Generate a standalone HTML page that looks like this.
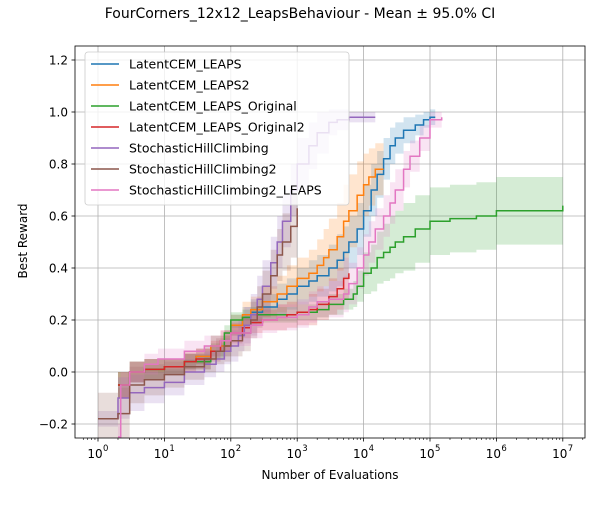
<!DOCTYPE html>
<html><head><meta charset="utf-8"><style>
body{margin:0;background:#fff;font-family:"Liberation Sans","DejaVu Sans",sans-serif}
svg text{font-family:"DejaVu Sans","Liberation Sans",sans-serif}
</style></head><body>
<svg id="c" width="600" height="500" xmlns="http://www.w3.org/2000/svg"></svg>
<script>
const seriesNames=["LatentCEM_LEAPS","LatentCEM_LEAPS2","LatentCEM_LEAPS_Original","LatentCEM_LEAPS_Original2","StochasticHillClimbing","StochasticHillClimbing2","StochasticHillClimbing2_LEAPS"];
const colors=["#1f77b4","#ff7f0e","#2ca02c","#d62728","#9467bd","#8c564b","#e377c2"];
const xBlue=[2,3,5,10,20,30,50,100,150,200,300,500,700,1000,1500,2000,3000,4000,5000,6000,8000,10000,13000,16000,20000,25000,30000,40000,60000,80000,100000,120000];
const yBlue=[-0.05,0,0.01,0.02,0.04,0.06,0.1,0.18,0.21,0.23,0.25,0.28,0.3,0.33,0.35,0.37,0.4,0.43,0.46,0.5,0.55,0.62,0.7,0.76,0.82,0.87,0.9,0.93,0.95,0.97,0.98,0.98];
const ciBlue=[0.05,0.04,0.04,0.03,0.03,0.03,0.04,0.04,0.04,0.05,0.05,0.06,0.06,0.07,0.08,0.08,0.09,0.1,0.1,0.1,0.1,0.1,0.1,0.09,0.08,0.07,0.06,0.05,0.04,0.03,0.03,0.03];
const xOrange=[2,3,5,10,20,30,50,100,150,200,300,500,700,1000,1500,2000,2500,3000,4000,5000,6000,8000,10000,12000,15000,20000];
const yOrange=[-0.05,0,0.01,0.02,0.04,0.06,0.1,0.18,0.22,0.24,0.27,0.3,0.33,0.36,0.38,0.41,0.44,0.47,0.52,0.58,0.62,0.68,0.72,0.75,0.78,0.78];
const ciOrange=[0.05,0.04,0.04,0.03,0.03,0.03,0.04,0.04,0.05,0.05,0.06,0.07,0.08,0.08,0.09,0.1,0.11,0.12,0.13,0.14,0.14,0.13,0.12,0.11,0.1,0.1];
const xGreen=[2,3,5,10,20,50,80,100,150,200,500,1000,2000,3000,5000,7000,8000,10000,13000,16000,20000,25000,30000,40000,60000,100000,200000,500000,1000000,3000000,10000000];
const yGreen=[-0.05,0,0.01,0.02,0.04,0.08,0.15,0.2,0.21,0.22,0.22,0.23,0.24,0.26,0.28,0.3,0.33,0.38,0.4,0.44,0.46,0.48,0.5,0.52,0.55,0.58,0.59,0.6,0.62,0.62,0.64];
const ciGreen=[0.05,0.04,0.04,0.03,0.03,0.03,0.03,0.03,0.03,0.03,0.03,0.03,0.03,0.04,0.04,0.05,0.06,0.08,0.09,0.1,0.11,0.12,0.12,0.13,0.13,0.13,0.13,0.13,0.13,0.13,0.13];
const xRed=[2,3,5,10,20,30,50,70,100,150,200,300,500,700,1000,1500,2000,3000,4000,5000,6000];
const yRed=[-0.05,0,0.01,0.02,0.04,0.05,0.08,0.12,0.15,0.17,0.19,0.2,0.21,0.22,0.23,0.24,0.26,0.29,0.32,0.36,0.38];
const ciRed=[0.05,0.04,0.04,0.03,0.04,0.04,0.04,0.04,0.04,0.04,0.04,0.04,0.05,0.05,0.05,0.06,0.06,0.07,0.08,0.08,0.08];
const xPurple=[1,2,3,5,10,20,40,60,80,100,130,160,200,250,300,400,500,600,800,1000,1500,2000,3000,4000,6000,15000];
const yPurple=[-0.18,-0.1,-0.08,-0.06,-0.04,0,0.03,0.05,0.08,0.1,0.14,0.18,0.22,0.28,0.33,0.42,0.5,0.58,0.7,0.8,0.87,0.92,0.96,0.97,0.98,0.98];
const ciPurple=[0.03,0.08,0.07,0.06,0.05,0.05,0.05,0.05,0.05,0.06,0.06,0.07,0.08,0.09,0.1,0.1,0.1,0.1,0.1,0.1,0.09,0.08,0.05,0.04,0.02,0.02];
const xBrown=[1,2,3,5,10,20,40,60,80,100,150,200,250,300,400,500,600,800,1000];
const yBrown=[-0.18,-0.16,-0.05,-0.03,-0.01,0.02,0.05,0.08,0.1,0.12,0.15,0.2,0.25,0.3,0.37,0.45,0.5,0.56,0.63];
const ciBrown=[0.1,0.1,0.07,0.06,0.05,0.05,0.05,0.05,0.06,0.06,0.07,0.07,0.08,0.09,0.1,0.1,0.11,0.12,0.12];
const xPink=[2,2.2,3,5,8,20,40,70,100,200,300,500,1000,1500,2000,3000,5000,6000,8000,10000,12000,15000,20000,25000,30000,40000,50000,70000,100000,150000];
const yPink=[-0.25,-0.05,0,0.03,0.05,0.08,0.1,0.12,0.15,0.18,0.2,0.21,0.22,0.25,0.27,0.28,0.3,0.34,0.4,0.45,0.5,0.55,0.6,0.65,0.7,0.78,0.83,0.9,0.97,0.98];
const ciPink=[0.05,0.05,0.04,0.04,0.04,0.04,0.04,0.04,0.05,0.05,0.05,0.05,0.05,0.06,0.06,0.07,0.07,0.08,0.08,0.08,0.08,0.08,0.08,0.08,0.08,0.07,0.06,0.05,0.03,0.03];
const yTicks=[-0.2,0,0.2,0.4,0.6,0.8,1.0,1.2];
const xTickExps=[0,1,2,3,4,5,6,7];
const XS=[xBlue,xOrange,xGreen,xRed,xPurple,xBrown,xPink];
const YS=[yBlue,yOrange,yGreen,yRed,yPurple,yBrown,yPink];
const CS=[ciBlue,ciOrange,ciGreen,ciRed,ciPurple,ciBrown,ciPink];

const L=75,R=585,T=46,B=438;
const xs=v=>98+66.4*Math.log10(v);
const ys=v=>372-260*v;
const svg=document.getElementById('c');
const NS="http://www.w3.org/2000/svg";
function mk(tag,at,parent){const e=document.createElementNS(NS,tag);for(const k in at)e.setAttribute(k,at[k]);(parent||svg).appendChild(e);return e;}
const defs=mk('defs',{});const cp=mk('clipPath',{id:'clip'},defs);mk('rect',{x:L,y:T,width:R-L,height:B-T},cp);

for(const e of xTickExps){const g=mk('line',{x1:xs(10**e),x2:xs(10**e),y1:T,y2:B,stroke:'#b0b0b0','stroke-width':0.8});
}
for(const t of yTicks){const g=mk('line',{x1:L,x2:R,y1:ys(t),y2:ys(t),stroke:'#b0b0b0','stroke-width':0.8});
}

const plot=mk('g',{'clip-path':'url(#clip)'});

function stepPts(x,y){const p=[];for(let i=0;i<x.length;i++){if(i>0)p.push([xs(x[i]),ys(y[i-1])]);p.push([xs(x[i]),ys(y[i])]);}return p;}
for(let s=0;s<7;s++){
 const x=XS[s],y=YS[s],c=CS[s];
 const up=stepPts(x,y.map((v,i)=>v+c[i])),lo=stepPts(x,y.map((v,i)=>v-c[i]));
 const d='M'+up.map(p=>p.join(',')).join('L')+'L'+lo.reverse().map(p=>p.join(',')).join('L')+'Z';
 const band=mk('path',{d:d,fill:colors[s],'fill-opacity':0.2,stroke:'none'},plot);
 
 
}
for(let s=0;s<7;s++){
 const pts=stepPts(XS[s],YS[s]);
 const ln=mk('path',{d:'M'+pts.map(p=>p.join(',')).join('L'),fill:'none',stroke:colors[s],'stroke-width':1.5},plot);
 
 
}
const fr=mk('rect',{x:L,y:T,width:R-L,height:B-T,fill:'none',stroke:'#000','stroke-width':0.8});

for(const e of xTickExps){const px=xs(10**e);
 mk('line',{x1:px,x2:px,y1:B,y2:B+3.5,stroke:'#000','stroke-width':0.8});
 const t=mk('text',{x:px-3,y:B+20,'font-size':12,'text-anchor':'middle'});t.textContent='10';
 
 const sp=mk('text',{x:px+5,y:B+13,'font-size':8.5,'text-anchor':'start'});sp.textContent=String(e);
 for(let m=2;m<10;m++){const v=m*10**e;const q=xs(v);if(q<R&&q>L)mk('line',{x1:q,x2:q,y1:B,y2:B+2,stroke:'#000','stroke-width':0.6});}
}
for(let m=6;m<10;m++){const q=xs(m/10);if(q>L)mk('line',{x1:q,x2:q,y1:B,y2:B+2,stroke:'#000','stroke-width':0.6});}
for(const t of yTicks){const py=ys(t);
 mk('line',{x1:L-3.5,x2:L,y1:py,y2:py,stroke:'#000','stroke-width':0.8});
 const tx=mk('text',{x:L-7,y:py+4.5,'font-size':12,'text-anchor':'end'});tx.textContent=(t<0?'\u2212':'')+Math.abs(t).toFixed(1);
 
}
const lg=mk('g',{});
mk('rect',{x:85,y:52,width:264,height:153,rx:3,fill:'#fff','fill-opacity':0.8,stroke:'#ccc','stroke-width':0.8},lg);
for(let s=0;s<7;s++){const yy=64+21*s;
 const en=mk('g',{},lg);
 mk('line',{x1:91,x2:119,y1:yy,y2:yy,stroke:colors[s],'stroke-width':1.5},en);
 const t=mk('text',{x:129,y:yy+4.5,'font-size':12.5},en);t.textContent=seriesNames[s];
}
</script>
<div style="position:absolute;left:0;top:6px;width:600px;text-align:center;font-family:'DejaVu Sans','Liberation Sans',sans-serif;font-size:14px">FourCorners_12x12_LeapsBehaviour - Mean ± 95.0% CI</div>
<div style="position:absolute;left:0;top:468px;width:660px;text-align:center;font-family:'DejaVu Sans','Liberation Sans',sans-serif;font-size:12px">Number of Evaluations</div>
<div style="position:absolute;left:-22px;top:234px;width:90px;text-align:center;transform:rotate(-90deg);font-family:'DejaVu Sans','Liberation Sans',sans-serif;font-size:12px">Best Reward</div>
</body></html>
